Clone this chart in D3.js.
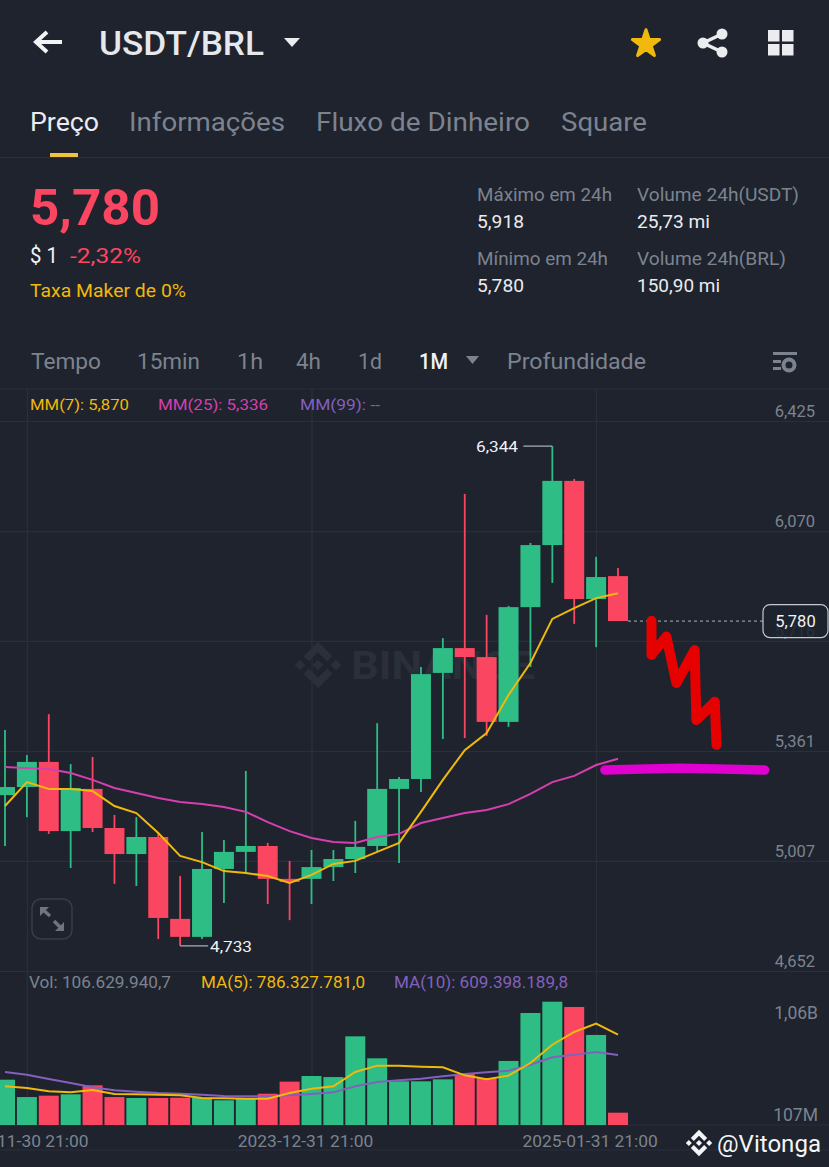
<!DOCTYPE html>
<html><head><meta charset="utf-8">
<script src="https://cdn.jsdelivr.net/npm/d3@7/dist/d3.min.js"></script>
<style>html,body{margin:0;padding:0;background:#1e232e;overflow:hidden}svg{display:block}text{font-family:Roboto,"Noto Sans",sans-serif}</style>
</head><body><div id="c"></div>
<script>
const dates=["2022-10-31 21:00","2022-11-30 21:00","2022-12-31 21:00","2023-01-31 21:00","2023-02-28 21:00","2023-03-31 21:00","2023-04-30 21:00","2023-05-31 21:00","2023-06-30 21:00","2023-07-31 21:00","2023-08-31 21:00","2023-09-30 21:00","2023-10-31 21:00","2023-11-30 21:00","2023-12-31 21:00","2024-01-31 21:00","2024-02-29 21:00","2024-03-31 21:00","2024-04-30 21:00","2024-05-31 21:00","2024-06-30 21:00","2024-07-31 21:00","2024-08-31 21:00","2024-09-30 21:00","2024-10-31 21:00","2024-11-30 21:00","2024-12-31 21:00","2025-01-31 21:00","2025-02-28 21:00"];
const open=[5.219,5.245,5.326,5.103,5.239,5.113,5.029,5.084,4.820,4.762,4.981,5.036,5.055,4.949,4.949,4.987,5.013,5.055,5.239,5.271,5.613,5.693,5.664,5.455,5.825,6.025,6.232,5.851,5.925];
const close=[5.245,5.326,5.103,5.242,5.113,5.029,5.084,4.823,4.762,4.981,5.036,5.055,4.949,4.939,4.987,5.013,5.052,5.239,5.271,5.609,5.693,5.664,5.455,5.825,6.025,6.232,5.851,5.922,5.780];
const high=[5.429,5.348,5.480,5.319,5.342,5.155,5.148,5.097,4.958,5.100,5.074,5.297,5.065,5.007,5.042,5.042,5.136,5.451,5.277,5.632,5.725,6.190,5.800,5.829,6.032,6.344,6.238,5.987,5.951];
const low=[5.055,5.148,5.094,4.984,5.100,4.933,4.926,4.755,4.733,4.755,4.871,4.968,4.868,4.816,4.868,4.942,4.968,5.036,5.000,5.229,5.400,5.403,5.410,5.439,5.632,5.903,5.771,5.696,5.780];
const ma7=[5.184,5.261,5.239,5.239,5.232,5.184,5.161,5.097,5.023,5.003,4.974,4.968,4.958,4.936,4.962,4.997,5.007,5.036,5.065,5.165,5.268,5.364,5.419,5.542,5.645,5.787,5.822,5.854,5.870];
const ma25=[5.310,5.306,5.303,5.290,5.268,5.242,5.226,5.210,5.197,5.190,5.181,5.165,5.132,5.103,5.081,5.068,5.065,5.084,5.094,5.129,5.145,5.161,5.171,5.190,5.223,5.261,5.281,5.316,5.336];
const volume=[394,243,255,267,345,243,235,235,237,237,215,235,272,377,426,417,771,580,380,380,397,443,409,557,974,1072,1026,783,107];
const volMa5=[337,322,293,284,304,270,267,263,258,235,232,229,229,278,316,337,461,516,516,507,502,432,397,429,539,698,809,881,786];
const volMa10=[461,437,400,365,328,302,290,278,272,263,252,250,250,258,270,284,337,374,389,403,423,443,458,472,524,589,611,635,609];
const priceTicks=[6.425,6.070,5.716,5.361,5.007,4.652];
const dateTicks=[1,14,27];
const lastPrice=5.780, maxPoint={i:25,v:6.344}, minPoint={i:8,v:4.733};
const scribbleRed=[[29.53,5.781],[29.53,5.671],[30.21,5.730],[30.67,5.580],[31.5,5.687],[31.58,5.461],[32.42,5.520],[32.5,5.381]];
const scribbleMagenta=[[27.4,5.300],[30.8,5.306],[34.7,5.300]];

const bg="#1e232e",grid="#2a2f3a",green="#2ebd85",red="#fa4660",grey="#7c838f",white="#eaecef",yellow="#f0b90b",magenta="#d63fb0",purple="#8460bd";
const svg=d3.select("#c").append("svg").attr("width",829).attr("height",1167);
svg.append("rect").attr("width",829).attr("height",1167).attr("fill",bg);

const x=d3.scaleLinear().domain([0,28]).range([5,618]);
const y=d3.scaleLinear().domain([4.652,6.425]).range([971,421]);
const yv=d3.scaleLinear().domain([0,1e9]).range([1125,1010]);
const comma=d3.formatLocale({decimal:",",thousands:".",grouping:[3],currency:["",""]}).format(".3f");

function T(str,x0,x1,base,size,fill,weight,anchor){
  const t=svg.append("text").attr("x",x0).attr("y",base).attr("font-size",size).attr("fill",fill).attr("font-weight",weight||400).text(str);
  if(x1!=null){t.attr("textLength",x1-x0).attr("lengthAdjust","spacingAndGlyphs");}
  if(anchor)t.attr("text-anchor",anchor);
  return t;
}
function logo(cx,cy,s,fill,op){
  svg.append("path").attr("transform",`translate(${cx-62.76*s},${cy-62.76*s}) scale(${s})`).attr("fill",fill).attr("opacity",op||1)
   .attr("d","M38.17 53.2 62.76 28.62 87.36 53.22 101.67 38.91 62.76 0 23.86 38.9ZM0 62.76 14.31 48.45 28.62 62.76 14.31 77.07ZM38.17 72.32 62.76 96.9 87.36 72.3 101.67 86.6 62.76 125.52 23.86 86.62ZM96.9 62.76 111.21 48.45 125.52 62.76 111.21 77.07ZM77.27 62.75 62.76 48.24 48.25 62.75 62.76 77.27Z");
}
// header
svg.append("path").attr("d","M36 42H62M47 32 36 42 47 52").attr("fill","none").attr("stroke","#f2f3f5").attr("stroke-width",4).attr("stroke-linejoin","miter");
T("USDT/BRL",99,264,55,33,"#e6e8ec",500);
svg.append("path").attr("d","M284 38H300L292 47Z").attr("fill","#eaecef");
svg.append("path").attr("d",d3.symbol(d3.symbolStar,230)()).attr("transform","translate(646,44)").attr("fill",yellow).attr("stroke",yellow).attr("stroke-width",3).attr("stroke-linejoin","round");
svg.append("path").attr("d","M722 34 703 43 722 52").attr("fill","none").attr("stroke","#eaecef").attr("stroke-width",3.5);
[[722,34],[703,43],[722,52]].forEach(c=>svg.append("circle").attr("cx",c[0]).attr("cy",c[1]).attr("r",5.5).attr("fill","#eaecef"));
[[768,30],[782,30],[768,44],[782,44]].forEach(c=>svg.append("rect").attr("x",c[0]).attr("y",c[1]).attr("width",11.5).attr("height",11.5).attr("fill","#eaecef"));
T("Preço",30,99,131,26,"#eaecef",400);
T("Informações",129,285,131,26,grey);
T("Fluxo de Dinheiro",316,530,131,26,grey);
T("Square",561,647,131,26,grey);
svg.append("rect").attr("x",50).attr("y",153).attr("width",28).attr("height",4.5).attr("fill","#f0c33c");
svg.append("line").attr("x1",0).attr("x2",829).attr("y1",157.5).attr("y2",157.5).attr("stroke",grid);
T("5,780",30,160,225,50,red,700);
T("$ 1",30,58,263,22,"#f2f3f5");
T("-2,32%",70,141,263,21,red);
T("Taxa Maker de 0%",30,186,297,18,yellow);
T("Máximo em 24h",477,612,201,18,grey);
T("5,918",477,524,228,18,white);
T("Volume 24h(USDT)",637,799,201,18,grey);
T("25,73 mi",637,710,228,18,white);
T("Mínimo em 24h",477,608,265,18,grey);
T("5,780",477,524,292,18,white);
T("Volume 24h(BRL)",637,786,265,18,grey);
T("150,90 mi",637,720,292,18,white);
T("Tempo",31,101,369,22,grey);
T("15min",137,200,369,22,grey);
T("1h",237,263,369,22,grey);
T("4h",296,321,369,22,grey);
T("1d",358,382,369,22,grey);
T("1M",419,448,369,22,"#f2f3f5",500);
svg.append("path").attr("d","M466 356H479L472.5 364Z").attr("fill",grey);
T("Profundidade",507,646,369,22,grey);
svg.append("rect").attr("x",773).attr("y",352).attr("width",24).attr("height",3).attr("fill",grey);
svg.append("rect").attr("x",773).attr("y",360).attr("width",8).attr("height",3).attr("fill",grey);
svg.append("rect").attr("x",773).attr("y",367).attr("width",8).attr("height",3).attr("fill",grey);
svg.append("circle").attr("cx",789).attr("cy",365).attr("r",5.5).attr("fill","none").attr("stroke",grey).attr("stroke-width",4);

svg.append("line").attr("x1",0).attr("x2",829).attr("y1",389).attr("y2",389).attr("stroke",grid);

// grids
svg.append("g").attr("transform","translate(0,1125)")
  .call(d3.axisBottom(x).tickValues(dateTicks).tickSize(-736).tickFormat("")).call(g=>{g.select(".domain").remove();g.selectAll("line").attr("stroke",grid).attr("stroke-width",1.2)});
svg.append("g").call(d3.axisLeft(y).tickValues(priceTicks).tickSize(-829).tickFormat("")).call(g=>{g.select(".domain").remove();g.selectAll("line").attr("stroke",grid).attr("stroke-width",1.2)});
[1125,1150].forEach(v=>svg.append("line").attr("x1",0).attr("x2",829).attr("y1",v).attr("y2",v).attr("stroke",grid));

// Binance watermark
logo(318,665,0.37,"#2a2f3a");
T("BINANCE",351,535,679,38,"#2a2f3a",700);

// legends
T("MM(7): 5,870",30,129,410,15,yellow);
T("MM(25): 5,336",158,268,410,15,magenta);
T("MM(99): --",300,380,410,15,purple);
T("Vol: 106.629.940,7",29,171,988,16,grey);
T("MA(5): 786.327.781,0",201,365,988,16,yellow);
T("MA(10): 609.398.189,8",394,568,988,16,purple);

// price axis
svg.append("g").attr("transform","translate(815,-10)").call(d3.axisRight(y).tickValues(priceTicks).tickSize(0).tickPadding(0).tickFormat(comma))
  .call(g=>{g.select(".domain").remove();g.selectAll("text").attr("text-anchor","end").attr("fill",grey).attr("font-size",16.5).style("font-family","Roboto")});

// candles
const idx=d3.range(open.length), col=i=>close[i]>=open[i]?green:red, bw=20;
svg.append("g").selectAll("line").data(idx).join("line")
  .attr("x1",x).attr("x2",x).attr("y1",i=>y(high[i])).attr("y2",i=>y(low[i])).attr("stroke",col).attr("stroke-width",1.8);
svg.append("g").selectAll("rect").data(idx).join("rect")
  .attr("x",i=>x(i)-bw/2).attr("width",bw)
  .attr("y",i=>y(Math.max(open[i],close[i]))).attr("height",i=>Math.max(1,Math.abs(y(open[i])-y(close[i])))).attr("fill",col);
const lineP=d3.line().x((d,i)=>x(i)).y(d=>y(d));
const lineV=d3.line().x((d,i)=>x(i)).y(d=>yv(d*1e6));
svg.append("path").attr("d",lineP(ma25)).attr("fill","none").attr("stroke",magenta).attr("stroke-width",2);
svg.append("path").attr("d",lineP(ma7)).attr("fill","none").attr("stroke",yellow).attr("stroke-width",2);

// extremes
svg.append("path").attr("d",`M${x(maxPoint.i)} ${y(maxPoint.v)}H${x(maxPoint.i)-29}`).attr("fill","none").attr("stroke","#b0b4bb").attr("stroke-width",1.2);
T(comma(maxPoint.v),476,518,452,15.5,"#f2f3f5");
svg.append("path").attr("d",`M${x(minPoint.i)} ${y(minPoint.v)}H${x(minPoint.i)+28}`).attr("fill","none").attr("stroke","#b0b4bb").attr("stroke-width",1.2);
T(comma(minPoint.v),210,252,952,15.5,"#f2f3f5");

// last price
svg.append("line").attr("x1",x(28)+10).attr("x2",763).attr("y1",y(lastPrice)).attr("y2",y(lastPrice)).attr("stroke","#b0b4bb").attr("stroke-dasharray","3 3");
svg.append("rect").attr("x",763).attr("y",y(lastPrice)-16.5).attr("width",65).attr("height",33).attr("rx",7).attr("fill",bg).attr("fill-opacity",0.88).attr("stroke","#c4c8ce").attr("stroke-width",1.2);
T(comma(lastPrice),795.5,null,y(lastPrice)+6,16.5,"#f2f3f5",400,"middle");

// expand icon
svg.append("rect").attr("x",32).attr("y",899).attr("width",40).attr("height",40).attr("rx",9).attr("fill","none").attr("stroke","#383d49").attr("stroke-width",1.5);
svg.append("path").attr("d","M41 908 50 916M63 930 54 921").attr("stroke","#6e7480").attr("stroke-width",3.5).attr("fill","none");
svg.append("path").attr("d","M40 907H49L40 916ZM64 931H55L64 922Z").attr("fill","#6e7480");

// volume
svg.append("g").selectAll("rect").data(idx).join("rect")
  .attr("x",i=>x(i)-bw/2).attr("width",bw).attr("y",i=>yv(volume[i]*1e6)).attr("height",i=>yv(0)-yv(volume[i]*1e6)).attr("fill",col);
svg.append("path").attr("d",lineV(volMa10)).attr("fill","none").attr("stroke",purple).attr("stroke-width",2);
svg.append("path").attr("d",lineV(volMa5)).attr("fill","none").attr("stroke",yellow).attr("stroke-width",2);
T("1,06B",818,null,1019,17.5,grey,400,"end");
T("107M",818,null,1121,17.5,grey,400,"end");

// date axis
svg.append("g").attr("transform","translate(-6.5,1130)").call(d3.axisBottom(x).tickValues(dateTicks).tickSize(0).tickPadding(0).tickFormat(i=>dates[i]))
  .call(g=>{g.select(".domain").remove();g.selectAll("text").attr("fill",grey).attr("font-size",17.4).attr("dy","0.95em").style("font-family","Roboto")});

// hand drawn annotations
const sk=d3.line().x(d=>x(d[0])).y(d=>y(d[1]));
svg.append("path").attr("d",sk(scribbleRed)).attr("fill","none").attr("stroke","#e60000").attr("stroke-width",10).attr("stroke-linecap","round").attr("stroke-linejoin","round");
svg.append("path").attr("d",sk(scribbleMagenta)).attr("fill","none").attr("stroke","#e000d0").attr("stroke-width",9.5).attr("stroke-linecap","round").attr("stroke-linejoin","round");

// signature
logo(699,1143,0.21,"#f4f5f6");
T("@Vitonga",717,821,1152,24,"#f4f5f6");
</script></body></html>
